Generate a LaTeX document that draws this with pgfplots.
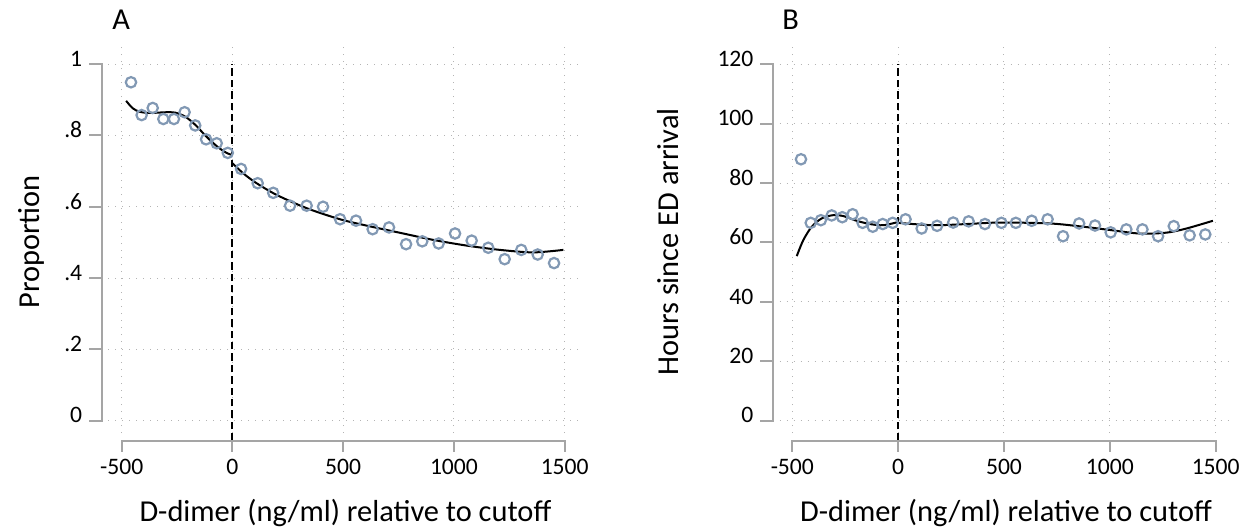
\documentclass[border=0pt]{standalone}
\usepackage{fontspec}
\setmainfont{Carlito}
\usepackage{pgfplots}
\pgfplotsset{compat=1.18}
\definecolor{mk}{RGB}{130,153,180}
\definecolor{spinec}{RGB}{165,165,165}
\definecolor{gridc}{RGB}{180,180,180}

\pgfplotsset{
  rdpanel/.style={
    scale only axis, clip=false,
    anchor=south west,
    xmin=-560, xmax=1580,
    axis line style={draw=none},
    major tick length=0pt,
    xtick={-500,0,500,1000,1500},
    xticklabels={-500,0,500,1000,1500},
    grid=major,
    grid style={gridc, line width=0.5pt, dash pattern=on 0.5pt off 3pt},
    ticklabel style={font=\fontsize{11.8}{14}\selectfont, inner sep=0pt},
    xticklabel style={anchor=north, yshift=-12.9pt},
    yticklabel style={anchor=east, xshift=-12.9pt, yshift=2.7pt},
  },
  fitline/.style={black, line width=1pt, smooth},
  bins/.style={only marks, mark=o, mark size=2.6pt, mk, mark options={line width=1.1pt}},
}
\tikzset{
  spine/.style={spinec, line width=1pt},
  cutline/.style={black, line width=1pt, dash pattern=on 3.7pt off 2pt},
}

\begin{document}
\begin{tikzpicture}
\useasboundingbox (0,0) rectangle (626pt,264.5pt);

% ---- panel A: proportion ----
\begin{axis}[rdpanel,
  at={(54.2pt,47.9pt)}, width=237pt, height=194pt,
  ymin=-0.035, ymax=1.053,
  ytick={0,0.2,0.4,0.6,0.8,1},
  yticklabels={0,.2,.4,.6,.8,1},
]
\draw[cutline] ([yshift=-3.75pt]axis cs:0,-0.035) -- (axis cs:0,1);
\addplot[bins] coordinates {
  (-458,0.949) (-410,0.857) (-360,0.877) (-312,0.846) (-264,0.846)
  (-216,0.865) (-168,0.828) (-119,0.789) (-71,0.778) (-21,0.751)
  (39,0.706) (114,0.666) (184,0.639) (260,0.603) (335,0.603)
  (409,0.600) (486,0.565) (558,0.561) (633,0.537) (707,0.542)
  (784,0.495) (857,0.503) (931,0.497) (1005,0.525) (1080,0.505)
  (1155,0.485) (1229,0.453) (1304,0.479) (1378,0.466) (1452,0.442)
};
\addplot[fitline] coordinates {
  (-480,0.897) (-450,0.876) (-417,0.866) (-370,0.863) (-300,0.865)
  (-259,0.864) (-220,0.855) (-192,0.843) (-160,0.825) (-132,0.806)
  (-100,0.786) (-71,0.770) (-45,0.758) (-20,0.749) (0,0.745)
};
\addplot[fitline] coordinates {
  (0,0.722) (50,0.693) (109,0.666) (200,0.633) (335,0.596) (485,0.565)
  (606,0.547) (756,0.527) (907,0.507) (1058,0.491) (1208,0.479)
  (1358,0.472) (1494,0.479)
};
% spines
\draw[spine] ([xshift=-9.6pt]axis cs:-560,1) -- ([xshift=-3.3pt]axis cs:-560,1)
  -- ([xshift=-3.3pt]axis cs:-560,0) -- ([xshift=-9.6pt]axis cs:-560,0);
\pgfplotsinvokeforeach{0.2,0.4,0.6,0.8}{
  \draw[spine] ([xshift=-3.3pt]axis cs:-560,#1) -- ([xshift=-9.6pt]axis cs:-560,#1);
}
\draw[spine] ([yshift=-9.25pt]axis cs:-500,-0.035) -- ([yshift=-3.75pt]axis cs:-500,-0.035)
  -- ([yshift=-3.75pt]axis cs:1500,-0.035) -- ([yshift=-9.25pt]axis cs:1500,-0.035);
\pgfplotsinvokeforeach{0,500,1000}{
  \draw[spine] ([yshift=-3.75pt]axis cs:#1,-0.035) -- ([yshift=-9.25pt]axis cs:#1,-0.035);
}
\end{axis}

% ---- panel B: hours ----
\begin{axis}[rdpanel,
  at={(389.8pt,47.9pt)}, width=226.5pt, height=194pt,
  ymin=-4.2, ymax=126.4,
  ytick={0,20,40,60,80,100,120},
  yticklabels={0,20,40,60,80,100,120},
]
\draw[cutline] ([yshift=-3.75pt]axis cs:0,-4.2) -- (axis cs:0,120);
\addplot[bins] coordinates {
  (-459,88.0) (-413,66.6) (-365,67.5) (-314,69.1) (-264,68.5)
  (-215,69.5) (-168,66.6) (-120,65.3) (-73,66.2) (-26,66.6)
  (35,67.8) (111,64.7) (184,65.6) (260,66.7) (333,67.1)
  (410,66.2) (488,66.6) (556,66.6) (631,67.3) (706,67.8)
  (779,62.1) (855,66.4) (930,65.7) (1004,63.4) (1078,64.4)
  (1154,64.4) (1228,62.1) (1302,65.5) (1377,62.4) (1451,62.7)
};
\addplot[fitline] coordinates {
  (-479,55.4) (-448,60.8) (-408,65.3) (-361,68.1) (-306,69.2)
  (-259,68.9) (-196,67.3) (-133,66.2) (-70,65.8) (0,66.9)
};
\addplot[fitline] coordinates {
  (0,66.6) (166,65.8) (323,66.2) (480,66.7) (716,66.4) (874,65.3)
  (1000,64.2) (1141,63.0) (1267,63.3) (1362,64.7) (1487,67.3)
};
\draw[spine] ([xshift=-9.6pt]axis cs:-560,120) -- ([xshift=-3.3pt]axis cs:-560,120)
  -- ([xshift=-3.3pt]axis cs:-560,0) -- ([xshift=-9.6pt]axis cs:-560,0);
\pgfplotsinvokeforeach{20,40,60,80,100}{
  \draw[spine] ([xshift=-3.3pt]axis cs:-560,#1) -- ([xshift=-9.6pt]axis cs:-560,#1);
}
\draw[spine] ([yshift=-9.25pt]axis cs:-500,-4.2) -- ([yshift=-3.75pt]axis cs:-500,-4.2)
  -- ([yshift=-3.75pt]axis cs:1500,-4.2) -- ([yshift=-9.25pt]axis cs:1500,-4.2);
\pgfplotsinvokeforeach{0,500,1000}{
  \draw[spine] ([yshift=-3.75pt]axis cs:#1,-4.2) -- ([yshift=-9.25pt]axis cs:#1,-4.2);
}
\end{axis}

% titles and panel letters
\node[anchor=base west, inner sep=0pt, font=\fontsize{15.2}{18}\selectfont] at (56pt,249.6pt) {A};
\node[anchor=base west, inner sep=0pt, font=\fontsize{15.2}{18}\selectfont] at (391pt,249.6pt) {B};
\node[anchor=base, inner sep=0pt, rotate=90, font=\fontsize{15.2}{18}\selectfont] at (19.5pt,143.5pt) {Proportion};
\node[anchor=base, inner sep=0pt, rotate=90, font=\fontsize{15.2}{18}\selectfont] at (339.2pt,143.5pt) {Hours since ED arrival};
\node[anchor=base, inner sep=0pt, font=\fontsize{15.2}{18}\selectfont] at (172.7pt,3.6pt) {D-dimer (ng/ml) relative to cutoff};
\node[anchor=base, inner sep=0pt, font=\fontsize{15.2}{18}\selectfont] at (503pt,3.6pt) {D-dimer (ng/ml) relative to cutoff};
\end{tikzpicture}
\end{document}
